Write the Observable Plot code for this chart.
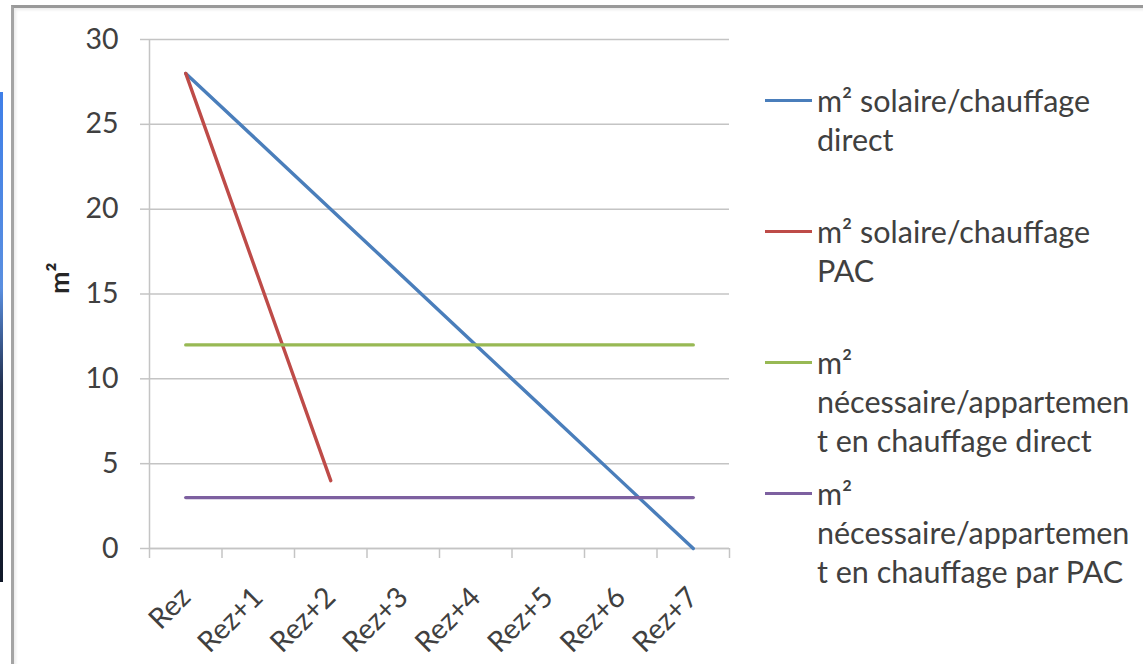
<!DOCTYPE html>
<html>
<head>
<meta charset="utf-8">
<script src="https://cdn.jsdelivr.net/npm/d3@7"></script>
<script src="https://cdn.jsdelivr.net/npm/@observablehq/plot@0.6"></script>
<style>
  html, body { margin: 0; padding: 0; background: #fff; }
  #page { position: relative; width: 1143px; height: 664px; overflow: hidden; background: #fff;
          font-family: Lato, "Open Sans", sans-serif; color: #404040; }
  #edge { position: absolute; left: 0; top: 92px; width: 3px; height: 490px;
          background: linear-gradient(#3f7fe8, #5a8fe0 40%, #22304f 60%, #101828); }
  #frame { position: absolute; left: 11px; top: 5px; width: 1200px; height: 700px;
           border-left: 3px solid #a4a4a4; border-top: 3px solid #999;
           box-shadow: inset 2px 2px 3px rgba(0,0,0,0.08); }
  #chart { position: absolute; left: 0; top: 0; }
  #legend { position: absolute; left: 765px; top: 81px; }
  .item { position: relative; height: 131px; }
  .swatch { position: absolute; left: 0; top: 18px; width: 47px; height: 3px; }
  .label { position: absolute; left: 52px; top: 0; font-size: 30.5px; line-height: 39px; white-space: nowrap; }
</style>
</head>
<body>
<div id="page">
  <div id="edge"></div>
  <div id="frame"></div>
  <div id="chart"></div>
  <div id="legend"></div>
</div>
<script>
// Floors of the building
const categories = ["Rez", "Rez+1", "Rez+2", "Rez+3", "Rez+4", "Rez+5", "Rez+6", "Rez+7"];

// Series values (m²)
const solaireDirect = [28, 24, 20, 16, 12, 8, 4, 0];
const solairePAC = [28, 16, 4];
const besoinDirect = [12, 12, 12, 12, 12, 12, 12, 12];
const besoinPAC = [3, 3, 3, 3, 3, 3, 3, 3];

// Legend entries, already broken into lines as displayed
const seriesNames = [
  "m² solaire/chauffage direct",
  "m² solaire/chauffage PAC",
  "m² nécessaire/appartement en chauffage direct",
  "m² nécessaire/appartement en chauffage par PAC"
];
const legendLines = [
  ["m² solaire/chauffage", "direct"],
  ["m² solaire/chauffage", "PAC"],
  ["m²", "nécessaire/appartemen", "t en chauffage direct"],
  ["m²", "nécessaire/appartemen", "t en chauffage par PAC"]
];
const seriesColors = ["#4a7ebb", "#be4b48", "#98b954", "#7d60a0"];
const yTicks = [0, 5, 10, 15, 20, 25, 30];
const yLabel = "m²";

const seriesValues = [solaireDirect, solairePAC, besoinDirect, besoinPAC];
const rows = seriesValues.flatMap((vals, s) =>
  vals.map((v, i) => ({serie: seriesNames[s], i, v})));

const indices = categories.map((_, i) => i);
// category boundaries, where the x-axis tick marks sit
const boundaries = d3.range(categories.length + 1).map(i => i - 0.5);

const gridColor = "#c4c4c4";

const chart = Plot.plot({
  width: 760,
  height: 664,
  marginLeft: 149,
  marginRight: 31,
  marginTop: 39,
  marginBottom: 116,
  style: {fontFamily: "Lato, 'Open Sans', sans-serif", fontSize: "28px", color: "#404040", background: "transparent", overflow: "visible"},
  x: {type: "linear", domain: [-0.5, categories.length - 0.5]},
  y: {domain: [0, 30]},
  color: {domain: seriesNames, range: seriesColors},
  marks: [
    Plot.gridY(yTicks, {stroke: gridColor, strokeOpacity: 1, strokeWidth: 1.5}),
    Plot.axisY(yTicks, {tickSize: 9, tickPadding: 22, stroke: gridColor, strokeWidth: 1.5, fill: "#404040", fontSize: 28.5, label: null}),
    Plot.ruleX([-0.5], {stroke: gridColor, strokeWidth: 1.5}),
    Plot.ruleY([0], {stroke: gridColor, strokeWidth: 1.5}),
    Plot.axisX(boundaries, {tickSize: 10, tickFormat: () => "", stroke: gridColor, strokeWidth: 1.5, label: null}),
    Plot.axisX(indices, {tickSize: 0, tickPadding: 44, tickRotate: -45, tickFormat: i => categories[i], fill: "#404040", fontSize: 28.5, label: null}),
    Plot.line(rows, {x: "i", y: "v", z: "serie", stroke: "serie", strokeWidth: 3.4}),
    Plot.text([yLabel], {text: d => d, frameAnchor: "left", rotate: -90, dx: -89, fontWeight: "bold", fontSize: 27, fill: "#262626"})
  ]
});
document.getElementById("chart").appendChild(chart);

// Legend at the right of the plot
const legend = d3.select("#legend");
legendLines.forEach((lines, s) => {
  const item = legend.append("div").attr("class", "item");
  item.append("div").attr("class", "swatch").style("background", seriesColors[s]);
  item.append("div").attr("class", "label").html(lines.join("<br>"));
});
</script>
</body>
</html>
